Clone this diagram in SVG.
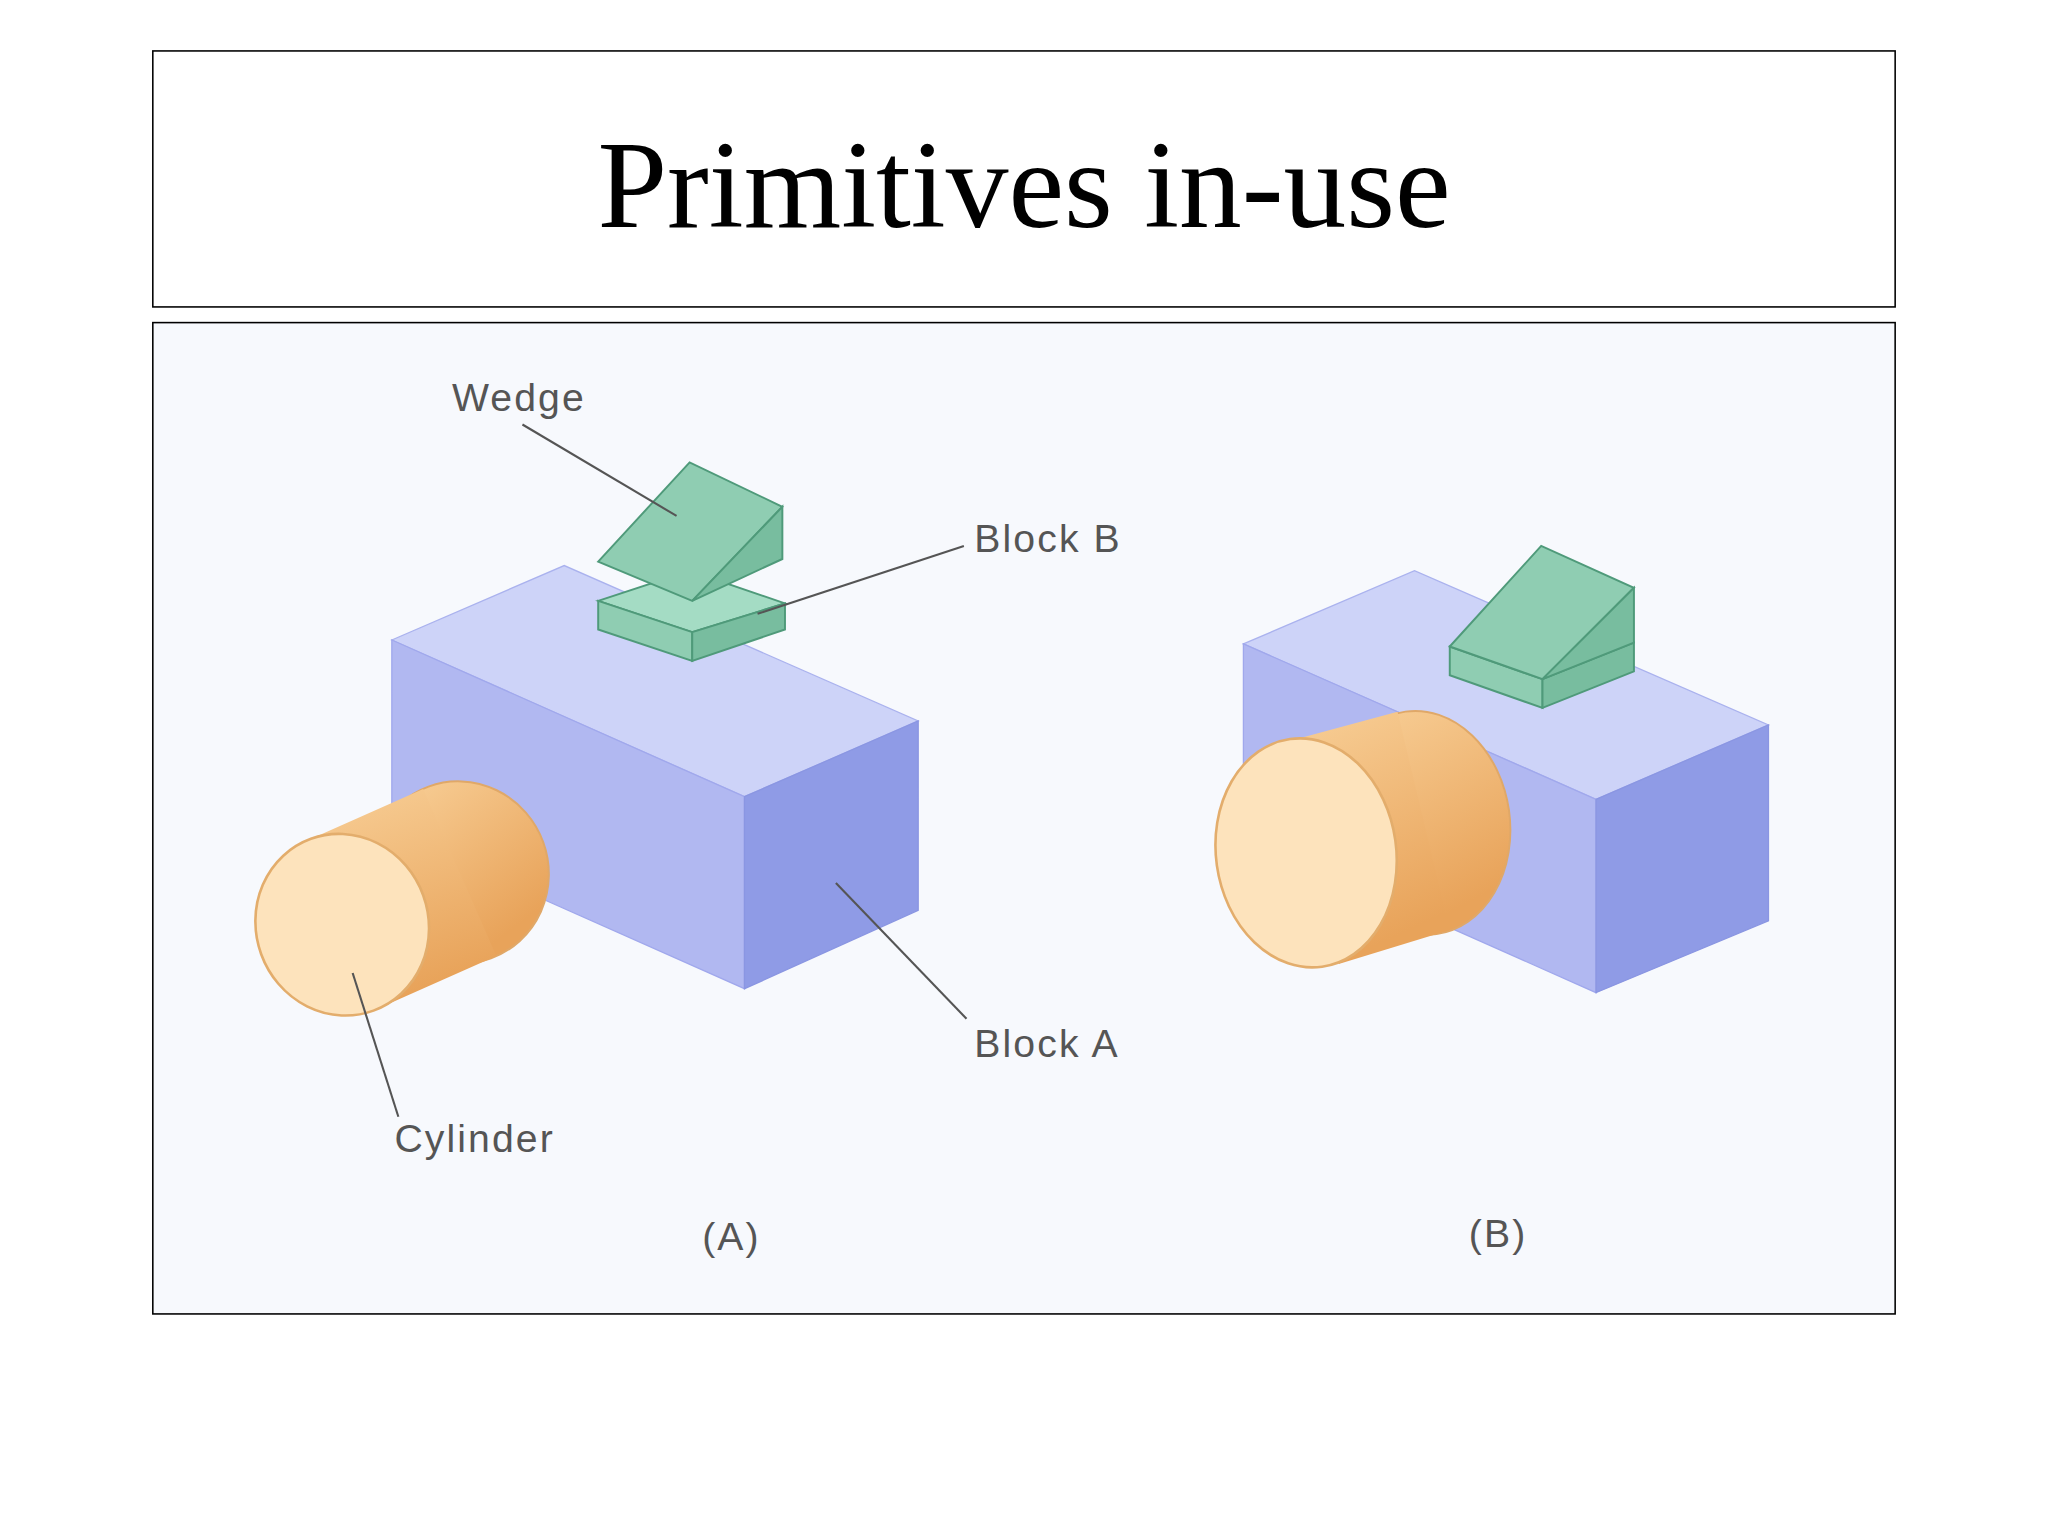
<svg xmlns="http://www.w3.org/2000/svg" width="2048" height="1536" viewBox="0 0 2048 1536">
<style>
.lbl{font-family:"Liberation Sans",Arial,sans-serif;font-size:30px;letter-spacing:1.6px;fill:#555}
.ln{stroke:#555;stroke-width:1.6;fill:none}
.top{fill:#cdd3f8;stroke:#aab2ee;stroke-width:1}
.front{fill:#b1b8f1;stroke:#a0a8ec;stroke-width:1}
.side{fill:#8f9be6;stroke:#8a96e2;stroke-width:1}
.g1{fill:#a4dcc4;stroke:#4f9a7a;stroke-width:1.5}
.g2{fill:#8fcdb2;stroke:#4f9a7a;stroke-width:1.5}
.g3{fill:#78bd9f;stroke:#4f9a7a;stroke-width:1.5}
.cb{fill:url(#cyl);stroke:#e0a868;stroke-width:1.5}
.cf{fill:#fde3bc;stroke:#e3ad6c;stroke-width:2}
</style>
<defs>
<linearGradient id="cyl" x1="0" y1="0" x2="0.3" y2="1">
<stop offset="0" stop-color="#f8cf97"/><stop offset="1" stop-color="#e8a35a"/>
</linearGradient>
</defs>
<rect width="2048" height="1536" fill="#fff"/>
<g transform="scale(1.3061)">
<g id="title">
<rect x="117" y="39" width="1334" height="196" fill="#fff" stroke="#000" stroke-width="1.2"/>
<text x="784" y="174" text-anchor="middle" font-family="Liberation Serif,Times New Roman,serif" font-size="96">Primitives in-use</text>
</g>
<g id="panel"><rect x="117" y="247" width="1334" height="759" fill="#f7f9fd" stroke="#000" stroke-width="1.2"/></g>
<g id="blockA">
<polygon class="top" points="300,490 432,433 703,552 570,610"/>
<polygon class="front" points="300,490 570,610 570,757 300,637"/>
<polygon class="side" points="570,610 703,552 703,697 570,757"/>
</g>
<g id="blockB">
<polygon class="g1" points="458,460 528,437 601,462 530,484"/>
<polygon class="g2" points="458,460 530,484 530,506 458,482"/>
<polygon class="g3" points="530,484 601,462 601,482 530,506"/>
</g>
<g id="wedge">
<polygon class="g2" points="458,430 528,354 599,388 530,460"/>
<polygon class="g3" points="530,460 599,388 599,428"/>
</g>
<g id="cylinder">
<ellipse class="cb" cx="352" cy="668" rx="68" ry="70" transform="rotate(-20 352 668)"/>
<polygon points="234,644 324,604 380,732 290,772" fill="url(#cyl)"/>
<ellipse class="cf" cx="262" cy="708" rx="66" ry="70" transform="rotate(-20 262 708)"/>
</g>
<g id="blockA2">
<polygon class="top" points="952,493 1083,437 1354,555 1222,612"/>
<polygon class="front" points="952,493 1222,612 1222,760 952,640"/>
<polygon class="side" points="1222,612 1354,555 1354,705 1222,760"/>
</g>
<g id="blockB2">
<polygon class="g2" points="1110,495 1181,520 1181,542 1110,517"/>
<polygon class="g3" points="1181,520 1251,492 1251,514 1181,542"/>
</g>
<g id="wedge2">
<polygon class="g2" points="1110,495 1180,418 1251,450 1181,520"/>
<polygon class="g3" points="1181,520 1251,450 1251,492"/>
</g>
<g id="cylinder2">
<ellipse class="cb" cx="1088" cy="630" rx="68" ry="86" transform="rotate(-8 1088 630)"/>
<polygon points="985,568 1070,545 1110,712 1025,738" fill="url(#cyl)"/>
<ellipse class="cf" cx="1000" cy="653" rx="69" ry="88" transform="rotate(-8 1000 653)"/>
</g>
<g id="connectors">
<line class="ln" x1="400" y1="325" x2="518" y2="395"/>
<line class="ln" x1="738" y1="418" x2="580" y2="470"/>
<line class="ln" x1="740" y1="780" x2="640" y2="676"/>
<line class="ln" x1="305" y1="855" x2="270" y2="745"/>
</g>
<g id="labels">
<text class="lbl" x="346" y="315">Wedge</text>
<text class="lbl" x="746" y="423">Block B</text>
<text class="lbl" x="746" y="809">Block A</text>
<text class="lbl" x="302" y="882">Cylinder</text>
<text class="lbl" x="560" y="957" text-anchor="middle">(A)</text>
<text class="lbl" x="1147" y="955" text-anchor="middle">(B)</text>
</g>
</g>
</svg>
